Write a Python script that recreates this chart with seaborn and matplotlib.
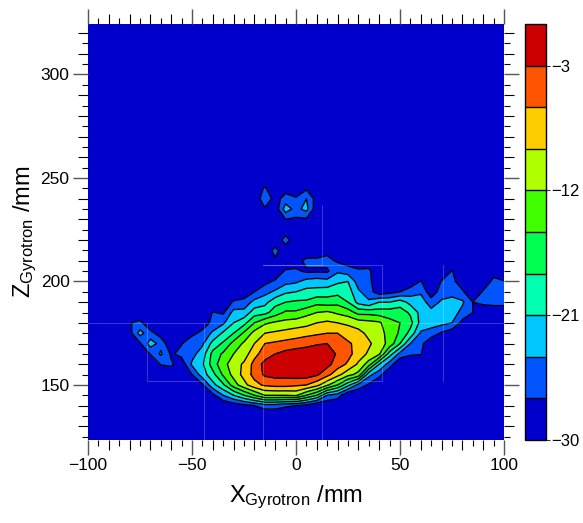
import numpy as np
import matplotlib
matplotlib.use("Agg")
import matplotlib.pyplot as plt
from matplotlib.colors import ListedColormap, BoundaryNorm
from matplotlib.ticker import MultipleLocator
import seaborn as sns

# Values, in dB. One list per x column, from z = 135 upward.
o = -30
x_mm = list(range(-100, 101, 5))
z_mm = list(range(135, 251, 5))
columns = [
    [], [], [], [],
    [o, o, o, o, o, o, o, o, -28.2, -27.2],
    [o, o, o, o, o, o, o, -27.5, -22.8, -26.2, -29.5],
    [o, o, o, o, o, o, -26.8, -22.5, -26, -29.5],
    [o, o, o, o, o, -26.8, -23.5, -25, -28.5],
    [o, o, o, o, -29, -26.5, -27.5, -29.5],
    [o, o, o, o, o, -29, -26, -27.2],
    [o, o, o, -29.5, -27, -23.5, -25, -24.5, -28],
    [o, o, o, -27.5, -22.5, -21.5, -22.5, -24.5, -26, -29],
    [o, o, -28, -22, -19, -16.5, -17, -20, -23.5, -26, -26.8],
    [o, o, -24, -18.5, -14.5, -13, -14.5, -17.5, -20.5, -24.5, -27.5],
    [o, -29, -21, -13.5, -11, -10.5, -12, -14, -18, -21, -23, -26.5],
    [o, -28, -18, -10, -8, -8.5, -10.5, -11.5, -14.5, -19, -23, -26, -29],
    [o, -27, -15, -7, -5, -5, -7, -9, -11, -15, -19.5, -23, -27],
    [o, -25.5, -12, -5.5, -2.5, -2, -4.5, -6, -9, -12.5, -19, -22, -25, -28, o, o, -29, o, o, o, -27.5, -24.3, -26.5],
    [o, -25.5, -12, -5, -2, -1.5, -3, -5.5, -8.5, -11.5, -16.5, -19, -23.5, -26.5, -29.5, -27.5, -26, -29.5, o, -29.5, -29, -28.5],
    [o, -26.5, -12, -5, -2, -1, -2, -5, -8, -11, -14.5, -18, -21.5, -25, -26.5, o, -29, -25.5, -29, -27, -22.5, -25.5, -28.5],
    [o, -27, -11.5, -5.5, -1.5, -1, -1.5, -4.5, -7.5, -10.5, -14.5, -17.5, -21, -24.5, -26.5, -28.5, o, -29.5, o, -27.5, -25, -26.5],
    [o, -28, -15, -6, -1.5, -0.5, -1.5, -3.8, -7, -10, -13, -17.5, -20, -23, -27.5, -26, o, o, o, -27.5, -23, -24, -27.5],
    [o, o, -18, -8, -2.5, -1, -1, -3.3, -6.5, -9, -12, -16, -20, -22.5, -27.5, -26, o, o, o, o, -29, -28.5],
    [o, o, -24, -11.5, -5, -2, -1, -3, -6, -8.5, -11.5, -16.5, -19.5, -23, -27.5, -26, -28],
    [o, o, -25.5, -15, -8, -4.5, -3.5, -4.5, -6, -9, -12.5, -16, -19, -21.5, -24.5, -27.5],
    [o, o, o, -20, -11, -6.5, -5, -5.5, -7.5, -9.5, -13.5, -18, -19.5, -21, -25.5, -28.5],
    [o, o, o, -25, -13, -9.5, -7.5, -7, -8, -10.5, -16, -22, -23.5, -25.5, -26.5, -29],
    [o, o, o, -27.5, -23, -13.5, -9.5, -8.5, -9.8, -11, -16, -23.5, -25.5, -26, -26.3, -29],
    [o, o, o, o, -26, -21, -11.5, -10.5, -11, -11.5, -16.5, -21, -29],
    [o, o, o, o, o, -25.5, -19.5, -13, -13, -14, -16.5, -21, -28],
    [o, o, o, o, o, o, -25, -18, -15.5, -15, -16.5, -19.5, -27],
    [o, o, o, o, o, o, -26.5, -24, -19, -17, -18.5, -22, -25.5, -29],
    [o, o, o, o, o, o, -26.8, -26, -24.5, -22, -22, -22.5, -24.5, -26.8, -30],
    [o, o, o, o, o, o, o, o, -25, -23, -23, -25.5, -29],
    [o, o, o, o, o, o, o, o, -27.5, -23, -22.5, -23.5, -25.5, -26.8],
    [o, o, o, o, o, o, o, o, -29, -24, -22.5, -23, -25, -26, -26.8, -29.5],
    [o, o, o, o, o, o, o, o, o, -28, -25, -23.5, -26.5, -29],
    [o, o, o, o, o, o, o, o, o, o, -27, -27, -30],
    [o, o, o, o, o, o, o, o, o, o, o, -26, -26.6, -29.5],
    [o, o, o, o, o, o, o, o, o, o, -29, -26, -26, -26, -28.5],
    [o, o, o, o, o, o, o, o, o, o, -29, -26, -26, -26.8],
]
levels = [-30, -27, -24, -21, -18, -15, -12, -9, -6, -3, 0]
band_colors = ["#0000cc", "#0055ff", "#00c8ff", "#00ffb0", "#00ff50",
               "#40ff00", "#b0ff00", "#ffcc00", "#ff5500", "#cc0000"]

# faint seams between the measured patches
seams_x = [[-71.6, -71.6, -44.2], [-100, -44.2, -44.2], [-44.2, -15.9, -15.9], [-15.9, 12.5, 12.5],
           [-15.9, 41.3, 41.3, 12.5, 12.5], [41.3, 100], [70.7, 70.7]]
seams_z = [[180, 152, 152], [180, 180, 123.4], [180, 180, 123.4], [208, 208, 237],
           [208, 208, 152, 152, 123.4], [180, 180], [208, 152]]

sns.set_theme(style="ticks")
plt.rcParams["font.family"] = ["Liberation Sans", "DejaVu Sans"]
plt.rcParams["mathtext.fontset"] = "custom"
plt.rcParams["mathtext.rm"] = "Liberation Sans"
plt.rcParams["text.color"] = "black"
plt.rcParams["axes.labelcolor"] = "black"
plt.rcParams["xtick.labelcolor"] = "black"
plt.rcParams["ytick.labelcolor"] = "black"
plt.rcParams["contour.negative_linestyle"] = "solid"

Z = np.array([c + [o] * (len(z_mm) - len(c)) for c in columns]).T

fig = plt.figure(figsize=(5.83, 5.23), dpi=100)
ax = fig.add_axes([88 / 583, 83 / 523, 416 / 583, 416 / 523])
cax = fig.add_axes([525 / 583, 83 / 523, 21 / 583, 416 / 523])

cmap = ListedColormap(sns.color_palette(band_colors))
norm = BoundaryNorm(levels, cmap.N)
ax.set_facecolor(band_colors[0])
cf = ax.contourf(x_mm, z_mm, Z, levels=levels, cmap=cmap, norm=norm)
ax.contour(x_mm, z_mm, Z, levels=levels[1:-1], colors="black", linewidths=1.0)
for sx, sz in zip(seams_x, seams_z):
    ax.plot(sx, sz, color="white", lw=0.8, alpha=0.22)

ax.set_xlim(-100, 100)
ax.set_ylim(123.4, 324.4)
ax.xaxis.set_major_locator(MultipleLocator(50))
ax.yaxis.set_major_locator(MultipleLocator(50))
ax.xaxis.set_minor_locator(MultipleLocator(5))
ax.yaxis.set_minor_locator(MultipleLocator(5))
ax.tick_params(which="both", direction="out", top=True, right=True, width=0.8, color="black")
ax.tick_params(which="major", length=10.8, labelsize=12.5, pad=2.5, color="#555555", width=1.0)
ax.tick_params(which="minor", length=4.2)
sns.despine(ax=ax, top=True, right=True, left=True, bottom=True)

# every second minor tick is longer
fig.canvas.draw()
for axis in (ax.xaxis, ax.yaxis):
    for loc, tick in zip(axis.get_minorticklocs(), axis.get_minor_ticks()):
        if round(loc) % 10 == 0:
            tick.tick1line.set_markersize(7.2)
            tick.tick2line.set_markersize(7.2)

ax.set_xlabel(r"$\mathrm{X_{Gyrotron}}$ /mm", fontsize=17, labelpad=7)
ax.set_ylabel(r"$\mathrm{Z_{Gyrotron}}$ /mm", fontsize=17, labelpad=1)

cb = fig.colorbar(cf, cax=cax, ticks=[-30, -21, -12, -3], drawedges=True)
cb.dividers.set_color("black")
cb.dividers.set_linewidth(1.0)
cb.outline.set_edgecolor("black")
cb.outline.set_linewidth(1.0)
cax.tick_params(length=3, width=0.8, labelsize=12, pad=0.5, color="#333333")
cax.minorticks_off()

plt.savefig("out.png", dpi=100)
